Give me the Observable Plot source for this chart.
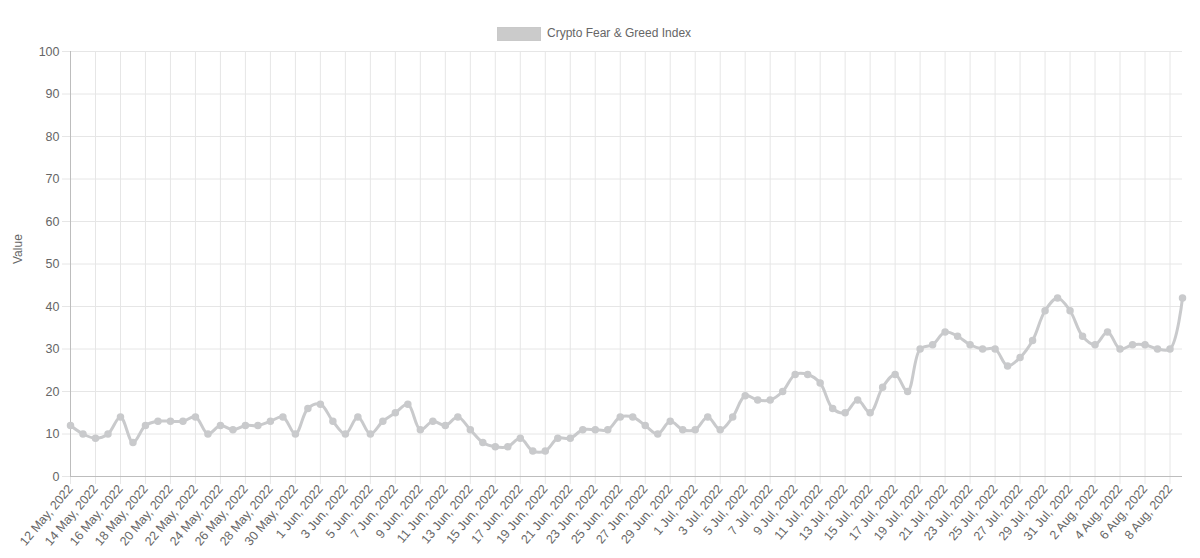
<!DOCTYPE html>
<html>
<head>
<meta charset="utf-8">
<script src="https://cdn.jsdelivr.net/npm/d3@7"></script>
<script src="https://cdn.jsdelivr.net/npm/@observablehq/plot@0.6"></script>
<style>
  html, body { margin: 0; padding: 0; background: #fff; }
  body { width: 1200px; height: 558px; overflow: hidden; font-family: "Liberation Sans", Arial, Helvetica, sans-serif; }
  #legend { height: 45px; position: relative; }
  #legend .box { position: absolute; left: 497px; top: 27px; width: 42px; height: 12px; background: #cbcbcb; border: 1px solid #c9c9c9; }
  #legend .lbl { position: absolute; left: 547px; top: 25px; font-size: 12px; color: #666; line-height: 16px; }
</style>
</head>
<body>
<div id="legend"><span class="box"></span><span class="lbl">Crypto Fear &amp; Greed Index</span></div>
<div id="chart"></div>
<script>
const seriesName = "Crypto Fear & Greed Index";
const dayLabels = [
  "12 May, 2022","13 May, 2022","14 May, 2022","15 May, 2022","16 May, 2022","17 May, 2022","18 May, 2022","19 May, 2022","20 May, 2022","21 May, 2022",
  "22 May, 2022","23 May, 2022","24 May, 2022","25 May, 2022","26 May, 2022","27 May, 2022","28 May, 2022","29 May, 2022","30 May, 2022","31 May, 2022",
  "1 Jun, 2022","2 Jun, 2022","3 Jun, 2022","4 Jun, 2022","5 Jun, 2022","6 Jun, 2022","7 Jun, 2022","8 Jun, 2022","9 Jun, 2022","10 Jun, 2022",
  "11 Jun, 2022","12 Jun, 2022","13 Jun, 2022","14 Jun, 2022","15 Jun, 2022","16 Jun, 2022","17 Jun, 2022","18 Jun, 2022","19 Jun, 2022","20 Jun, 2022",
  "21 Jun, 2022","22 Jun, 2022","23 Jun, 2022","24 Jun, 2022","25 Jun, 2022","26 Jun, 2022","27 Jun, 2022","28 Jun, 2022","29 Jun, 2022","30 Jun, 2022",
  "1 Jul, 2022","2 Jul, 2022","3 Jul, 2022","4 Jul, 2022","5 Jul, 2022","6 Jul, 2022","7 Jul, 2022","8 Jul, 2022","9 Jul, 2022","10 Jul, 2022",
  "11 Jul, 2022","12 Jul, 2022","13 Jul, 2022","14 Jul, 2022","15 Jul, 2022","16 Jul, 2022","17 Jul, 2022","18 Jul, 2022","19 Jul, 2022","20 Jul, 2022",
  "21 Jul, 2022","22 Jul, 2022","23 Jul, 2022","24 Jul, 2022","25 Jul, 2022","26 Jul, 2022","27 Jul, 2022","28 Jul, 2022","29 Jul, 2022","30 Jul, 2022",
  "31 Jul, 2022","1 Aug, 2022","2 Aug, 2022","3 Aug, 2022","4 Aug, 2022","5 Aug, 2022","6 Aug, 2022","7 Aug, 2022","8 Aug, 2022","9 Aug, 2022"
];
const values = [
  12,10,9,10,14,8,12,13,13,13,14,10,12,11,12,12,13,14,10,16,
  17,13,10,14,10,13,15,17,11,13,12,14,11,8,7,7,9,6,6,9,9,11,11,11,14,14,12,10,13,11,
  11,14,11,14,19,18,18,20,24,24,22,16,15,18,15,21,24,20,30,31,34,33,31,30,30,26,28,32,39,42,39,
  33,31,34,30,31,31,30,30,42
];
const tickLabels = dayLabels.filter((d, i) => i % 2 === 0);
const yTicks = [0,10,20,30,40,50,60,70,80,90,100];

const data = dayLabels.map((d, i) => ({label: d, value: values[i]}));

const font = "'Liberation Sans', Arial, Helvetica, sans-serif";
const gridColor = "#e6e6e6";
const lineColor = "#c9cacc";

const chart = Plot.plot({
  width: 1200,
  height: 513,
  marginTop: 6,
  marginLeft: 70,
  marginRight: 18,
  marginBottom: 82,
  style: {fontFamily: font, fontSize: "12px", color: "#666", background: "#fff"},
  x: {type: "point", domain: dayLabels, padding: 0},
  y: {domain: [0, 100]},
  marks: [
    Plot.ruleY(yTicks, {stroke: gridColor, strokeWidth: 1}),
    Plot.ruleX(tickLabels, {stroke: gridColor, strokeWidth: 1}),
    Plot.axisX({ticks: tickLabels, tickSize: 8, tickPadding: 2, tickRotate: -50, stroke: gridColor, fill: "#666", fontSize: 12.5, label: null}),
    Plot.axisY({ticks: yTicks, tickSize: 8, tickPadding: 3, stroke: gridColor, fill: "#666", fontSize: 12.5, label: null}),
    Plot.ruleX([dayLabels[0]], {stroke: "#bdbdbd", strokeWidth: 1}),
    Plot.ruleY([0], {stroke: "#bdbdbd", strokeWidth: 1}),
    Plot.line(data, {x: "label", y: "value", stroke: lineColor, strokeWidth: 3, curve: "catmull-rom"}),
    Plot.dot(data, {x: "label", y: "value", r: 3, fill: lineColor, stroke: lineColor}),
    Plot.text(["Value"], {frameAnchor: "left", dx: -52, rotate: -90, fill: "#666", fontSize: 12})
  ]
});
document.getElementById("chart").appendChild(chart);
</script>
</body>
</html>
